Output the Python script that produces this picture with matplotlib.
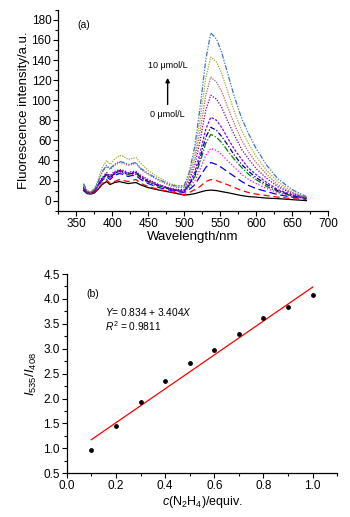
import numpy as np
import matplotlib
matplotlib.use("Agg")
import matplotlib.pyplot as plt
from matplotlib.ticker import MultipleLocator

plt.rcParams['font.family'] = ['Liberation Sans', 'DejaVu Sans']
plt.rcParams['mathtext.fontset'] = 'custom'
plt.rcParams['mathtext.rm'] = 'Liberation Sans'
plt.rcParams['mathtext.it'] = 'Liberation Sans:italic'

# ---------------- Data: panel (a) ----------------
wavelength = [360, 365, 370, 375, 380, 386, 392, 397, 403, 410, 416, 422, 427, 433, 440, 450, 465, 480, 490,
              500, 507, 515, 522, 530, 537, 545, 552, 560, 570, 580, 590, 600, 615, 630, 650, 670]

conc_0 = [10, 7, 6.5, 7.5, 11, 16, 19, 16, 18, 19, 18, 17, 17.5, 18, 15.5, 13, 10.5, 8.5, 7,
          5.5, 6, 7, 8.5, 10, 10.5, 10, 9, 8, 6.5, 5, 4, 3.5, 2.5, 2, 1, 0]
conc_1 = [11, 7.5, 7, 8, 12, 17, 21, 17, 19, 21, 20, 19, 20, 21, 17, 14, 11, 9, 7.5,
          6, 8, 11, 14, 19, 21, 20, 18, 16, 13, 10, 8, 6.5, 5, 3.5, 2, 1]
conc_2 = [12, 8, 7, 9, 14, 20, 24, 21, 25, 27, 26, 24, 25, 25, 21, 17, 13, 10.5, 9,
          8, 11, 16, 24, 33, 38, 36, 33, 29, 24, 19, 15, 12, 9, 6, 3.5, 2]
conc_3 = [12, 8, 7, 9, 14, 21, 25, 22, 26, 28, 27, 25, 26, 26, 22, 18, 14, 11, 9.5,
          8.5, 13, 20, 31, 45, 52, 50, 46, 40, 33, 26, 21, 17, 12, 8, 4, 2]
conc_4 = [13, 8, 7.5, 9.5, 15, 21, 26, 23, 27, 29, 28, 26, 27, 27, 23, 19, 14.5, 11.5, 10,
          9, 15, 24, 38, 57, 66, 63, 58, 50, 41, 33, 26, 21, 14, 9, 5, 2]
conc_5 = [13, 8.5, 7.5, 9.5, 15, 22, 26, 23, 27, 30, 28, 27, 27, 28, 23, 19, 15, 12, 10,
          9.5, 16, 26, 42, 63, 73, 70, 64, 56, 45, 36, 29, 23, 16, 10, 5, 2.5]
conc_6 = [13, 8.5, 7.5, 10, 15, 22, 27, 24, 28, 30, 29, 27, 28, 28, 24, 20, 15.5, 12, 10.5,
          10, 17, 29, 47, 71, 83, 80, 73, 63, 51, 41, 32, 26, 18, 11, 6, 2.5]
conc_7 = [14, 9, 8, 10, 16, 23, 28, 25, 29, 31, 30, 28, 29, 29, 25, 21, 16, 12.5, 11,
          11, 20, 36, 59, 90, 105, 101, 93, 80, 65, 51, 41, 32, 22, 14, 7, 3]
conc_8 = [15, 9, 8, 11, 18, 28, 34, 31, 35, 38, 37, 35, 36, 37, 31, 26, 20, 15, 13,
          13, 23, 42, 69, 105, 123, 118, 109, 94, 76, 60, 48, 38, 26, 16, 8, 3]
conc_9 = [16, 10, 9, 12, 20, 33, 40, 36, 41, 45, 44, 41, 42, 43, 37, 30, 23, 17, 15,
          14, 26, 48, 80, 122, 143, 138, 127, 110, 88, 70, 56, 44, 30, 19, 9, 3.5]
conc_10 = [17, 10, 8.5, 11, 18, 29, 35, 32, 36, 39, 38, 36, 37, 38, 32, 27, 21, 16, 14.5,
           15, 28, 55, 92, 140, 167, 161, 148, 128, 103, 82, 66, 52, 35, 22, 11, 4]

spectra = [conc_0, conc_1, conc_2, conc_3, conc_4, conc_5, conc_6, conc_7, conc_8, conc_9, conc_10]
colors = ['#000000', '#ff0000', '#0000ff', '#ff00ff', '#008000', '#000080',
          '#8000ff', '#800080', '#c06060', '#a8a830', '#3a78c0']
styles = ['-', (0, (5, 3)), (0, (6, 3)), (0, (1, 1.5)), (0, (5, 1.5, 1, 1.5)), (0, (4, 1.5, 1, 1.5)),
          (0, (2, 1.2)), (0, (1, 1.2)), (0, (1, 1)), (0, (1, 1)), (0, (4, 1.2, 1, 1.2, 1, 1.2))]

# ---------------- Data: panel (b) ----------------
ratio_x = [0.1, 0.2, 0.3, 0.4, 0.5, 0.6, 0.7, 0.8, 0.9, 1.0]
ratio_y = [0.96, 1.44, 1.93, 2.35, 2.71, 2.97, 3.30, 3.61, 3.83, 4.07]
fit_intercept = 0.834
fit_slope = 3.404

fig = plt.figure(figsize=(3.5, 5.17), dpi=100)

# ---------- Panel (a) ----------
ax1 = fig.add_axes([0.1666, 0.5925, 0.7705, 0.3885])
for y, c, ls in zip(spectra, colors, styles):
    ax1.plot(wavelength, y, color=c, linestyle=ls, linewidth=0.9)
ax1.set_xlim(325, 700)
ax1.set_ylim(-10, 190)
ax1.xaxis.set_major_locator(MultipleLocator(50))
ax1.xaxis.set_minor_locator(MultipleLocator(25))
ax1.yaxis.set_major_locator(MultipleLocator(20))
ax1.yaxis.set_minor_locator(MultipleLocator(10))
ax1.set_xlabel('Wavelength/nm', fontsize=9.5, labelpad=1)
ax1.set_ylabel('Fluorescence intensity/a.u.', fontsize=9.5, labelpad=1)
ax1.text(0.069, 0.925, '(a)', transform=ax1.transAxes, fontsize=7.5, ha='left', va='center')
ax1.annotate('', xy=(477, 125), xytext=(477, 93),
             arrowprops=dict(arrowstyle='-|>', color='black', lw=1, mutation_scale=6))
ax1.text(477, 135, '10 μmol/L', fontsize=6.5, ha='center', va='center')
ax1.text(477, 86, '0 μmol/L', fontsize=6.5, ha='center', va='center')

# ---------- Panel (b) ----------
ax2 = fig.add_axes([0.1906, 0.0845, 0.7731, 0.3855])
ax2.scatter(ratio_x, ratio_y, s=6, color='black', zorder=3)
fx = np.array([ratio_x[0], ratio_x[-1]])
ax2.plot(fx, fit_intercept + fit_slope * fx, color='#ff0000', linewidth=0.9)
ax2.set_xlim(0, 1.1)
ax2.set_ylim(0.5, 4.5)
ax2.xaxis.set_major_locator(MultipleLocator(0.2))
ax2.xaxis.set_minor_locator(MultipleLocator(0.1))
ax2.yaxis.set_major_locator(MultipleLocator(0.5))
ax2.yaxis.set_minor_locator(MultipleLocator(0.25))
ax2.set_xlabel(r'$\mathit{c}$(N$_2$H$_4$)/equiv.', fontsize=9, labelpad=1)
ax2.set_ylabel(r'$\mathit{I}_{535}/\mathit{I}_{408}$', fontsize=9.5, labelpad=3)
ax2.text(0.072, 0.9, '(b)', transform=ax2.transAxes, fontsize=7.5, ha='left', va='center')
ax2.text(0.142, 0.81, r'$\mathit{Y}$= 0.834 + 3.404$\mathit{X}$', transform=ax2.transAxes,
         fontsize=7.3, ha='left', va='center')
ax2.text(0.142, 0.74, r'$\mathit{R}^2$ = 0.9811', transform=ax2.transAxes,
         fontsize=7.3, ha='left', va='center')

for ax in (ax1, ax2):
    ax.spines['top'].set_visible(False)
    ax.spines['right'].set_visible(False)
    for s in ('left', 'bottom'):
        ax.spines[s].set_linewidth(0.9)
    ax.tick_params(which='major', direction='out', length=3.5, width=0.8, labelsize=8.5, pad=1.5)
    ax.tick_params(which='minor', direction='out', length=2, width=0.8)

fig.savefig('out.png', dpi=100)
